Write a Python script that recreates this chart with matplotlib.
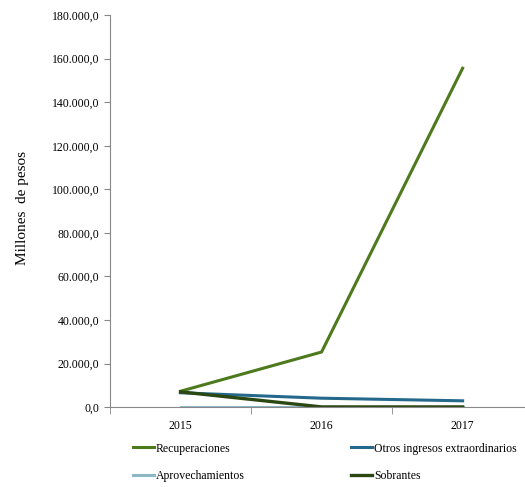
import numpy as np
import matplotlib.pyplot as plt
from matplotlib.ticker import FuncFormatter

years = ['2015', '2016', '2017']
recuperaciones = [7300, 25300, 155600]
otros_ingresos = [6600, 4100, 2900]
aprovechamientos = [100, 100, 100]
sobrantes = [7000, 100, 100]

plt.rcParams['font.family'] = ['Liberation Serif', 'DejaVu Serif']

fig = plt.figure(figsize=(5.25, 4.87), dpi=100)
ax = fig.add_axes([0.2095, 0.164, 0.806, 0.805])

x = np.arange(len(years))
l1, = ax.plot(x, recuperaciones, color='#4e7a1e', lw=2.2, label='Recuperaciones')
l2, = ax.plot(x, otros_ingresos, color='#24698c', lw=2.2, label='Otros ingresos extraordinarios')
l3, = ax.plot(x, aprovechamientos, color='#8db7c7', lw=2.2, label='Aprovechamientos')
l4, = ax.plot(x, sobrantes, color='#2b4712', lw=2.4, label='Sobrantes')

ax.set_xlim(-0.5, 2.5)
ax.set_ylim(0, 180000)
ax.set_yticks(np.arange(0, 180001, 20000))
ax.yaxis.set_major_formatter(FuncFormatter(lambda v, p: f'{v:,.1f}'.replace(',', 'X').replace('.', ',').replace('X', '.')))
ax.set_xticks(x)
ax.set_xticklabels(years)
ax.set_xticks([-0.5, 0.5, 1.5, 2.5], minor=True)
ax.tick_params(axis='x', which='major', length=0, pad=9, labelsize=8.5)
ax.tick_params(axis='x', which='minor', length=5, color='#888888')
ax.tick_params(axis='y', length=4, color='#888888', labelsize=8.5)

for s in ['top', 'right']:
    ax.spines[s].set_visible(False)
for s in ['left', 'bottom']:
    ax.spines[s].set_color('#888888')

fig.text(0.042, 0.573, 'Millones  de pesos', rotation=90, ha='center', va='center', fontsize=11)

# column-wise fill: reorder so rows read Recuperaciones/Otros, Aprovechamientos/Sobrantes
fig.legend([l1, l3, l2, l4], [l.get_label() for l in [l1, l3, l2, l4]],
           loc='upper left', bbox_to_anchor=(0.233, 0.113), ncol=2, frameon=False,
           fontsize=8.5, handlelength=1.8, handletextpad=0.15, columnspacing=9.0,
           labelspacing=1.3)

fig.savefig('out.png', dpi=100)
